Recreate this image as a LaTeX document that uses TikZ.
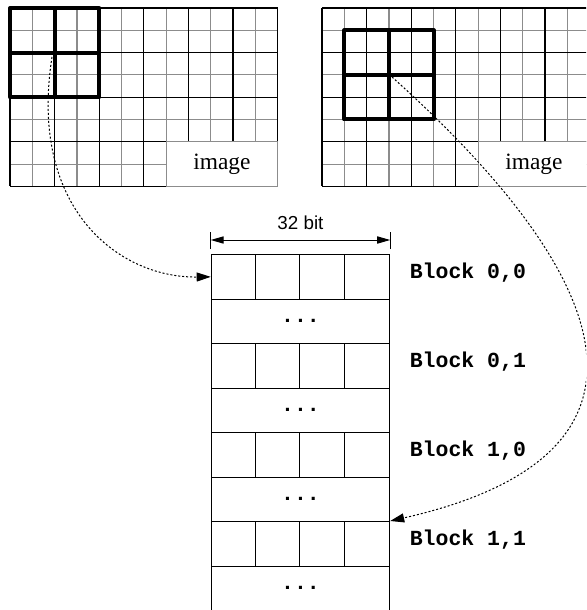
\documentclass[tikz,border=0pt]{standalone}
\usepackage{fontspec}
\setmainfont{Liberation Serif}
\setsansfont{Liberation Sans}
\setmonofont{Liberation Mono}
\usetikzlibrary{arrows.meta, positioning}

\begin{document}
\begin{tikzpicture}[
    x=0.5pt, y=-0.5pt,
    pixline/.style={draw=black!45, line width=0.6pt},
    blkline/.style={draw=black, line width=0.6pt},
    thickbox/.style={draw, line width=2pt, line join=round},
    band/.style={draw, line width=0.6pt, minimum width=89.15pt, minimum height=22.25pt, inner sep=0pt, anchor=north west},
    blocklabel/.style={font=\fontsize{10.75}{12}\selectfont\ttfamily\bfseries, anchor=base west, inner sep=0pt},
    dots/.style={font=\fontsize{10.75}{12}\selectfont\ttfamily\bfseries},
    imglabel/.style={font=\fontsize{11.7}{13}\selectfont},
    dimarrow/.style={{Triangle[length=6.5pt,width=3.6pt]}-{Triangle[length=6.5pt,width=3.6pt]}, line width=0.5pt},
    maparrow/.style={-{Triangle[length=7pt,width=4.5pt]}, line width=0.5pt, dash pattern=on 1pt off 1pt},
]
    \clip (0,0) rectangle (586,610);

    % Image grids (pixels gray, 2x2 blocks black)
    \foreach \ox/\nm in {10/L, 322/R} {
        \foreach \i in {1,3,...,11}
            \draw[pixline] (\ox+\i*22.3,8) -- (\ox+\i*22.3,186.4);
        \foreach \j in {1,3,5,7}
            \draw[pixline] (\ox,8+\j*22.3) -- (\ox+267.6,8+\j*22.3);
        \foreach \i in {0,2,...,12}
            \draw[blkline] (\ox+\i*22.3,8) -- (\ox+\i*22.3,186.4);
        \foreach \j in {0,2,4,6,8}
            \draw[blkline] (\ox,8+\j*22.3) -- (\ox+267.6,8+\j*22.3);
        % blank corner with label
        \filldraw[fill=white, pixline] (\ox+156.1,141.8) rectangle (\ox+267.6,186.4);
        \node[imglabel] (img\nm) at (\ox+211.9,164.1) {image};
    }

    % Selected blocks
    \foreach \ox/\oy in {10/8, 344.3/30.3} {
        \draw[thickbox] (\ox,\oy) rectangle (\ox+89.2,\oy+89.2);
        \draw[thickbox] (\ox+44.6,\oy) -- (\ox+44.6,\oy+89.2);
        \draw[thickbox] (\ox,\oy+44.6) -- (\ox+89.2,\oy+44.6);
    }

    % Memory layout
    \foreach \k in {0,...,7}
        \node[band] (band\k) at (210.7,254+\k*44.5) {};
    \foreach \k in {0,2,4,6}
        \foreach \c in {1,2,3}
            \draw[blkline] (210.7+\c*44.575,254+\k*44.5) -- ++(0,44.5);
    \foreach \k in {1,3,5,7}
        \node[dots] (dots\k) at (band\k.center) {...};

    % Labels
    \foreach \k/\txt in {0/{0,0}, 2/{0,1}, 4/{1,0}, 6/{1,1}}
        \node[blocklabel] (lbl\k) at ([xshift=9.6pt, yshift=-1pt]band\k.east) {Block \txt};

    % Width
    \coordinate (dimL) at ([yshift=7pt]band0.north west);
    \coordinate (dimR) at ([yshift=7pt]band0.north east);
    \draw[blkline] ([yshift=2.5pt]band0.north west) -- ([yshift=11pt]band0.north west);
    \draw[blkline] ([yshift=2.5pt]band0.north east) -- ([yshift=11pt]band0.north east);
    \draw[dimarrow] (dimL) -- node[above=5pt, inner sep=0pt, font=\fontsize{9.4}{11}\selectfont\sffamily] (width) {32 bit} (dimR);

    % Mapping
    \coordinate (srcL) at (52,57);
    \coordinate (srcR) at (392,77);
    \draw[maparrow] (srcL) .. controls (28,210) and (120,278) .. (band0.west);
    \draw[maparrow] (srcR) .. controls (640,300) and (660,460) .. (band6.north east);
\end{tikzpicture}
\end{document}
